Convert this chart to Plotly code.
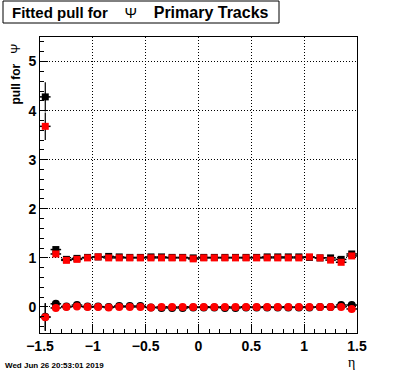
import plotly.graph_objects as go

eta = [-1.45, -1.35, -1.25, -1.15, -1.05, -0.95, -0.85, -0.75, -0.65, -0.55,
       -0.45, -0.35, -0.25, -0.15, -0.05, 0.05, 0.15, 0.25, 0.35, 0.45,
       0.55, 0.65, 0.75, 0.85, 0.95, 1.05, 1.15, 1.25, 1.35, 1.45]

black_sq = [4.28, 1.17, 0.97, 0.99, 1.01, 1.02, 1.03, 1.02, 1.01, 1.01,
            1.02, 1.02, 1.01, 1.01, 1.00, 1.01, 1.01, 1.01, 1.01, 1.01,
            1.01, 1.02, 1.02, 1.02, 1.02, 1.01, 1.00, 1.00, 0.97, 1.08]
black_sq_err = [0.30, 0.04, 0.01, 0.01, 0.01, 0.01, 0.01, 0.01, 0.01, 0.01,
                0.01, 0.01, 0.01, 0.01, 0.01, 0.01, 0.01, 0.01, 0.01, 0.01,
                0.01, 0.01, 0.01, 0.01, 0.01, 0.01, 0.01, 0.01, 0.02, 0.03]
red_sq = [3.68, 1.08, 0.95, 0.97, 1.00, 1.02, 1.00, 1.00, 1.00, 1.00,
          1.00, 1.00, 1.00, 1.00, 0.98, 1.00, 1.00, 1.00, 1.00, 1.00,
          1.00, 1.00, 1.00, 1.00, 1.00, 1.02, 1.00, 0.955, 0.91, 1.04]
red_sq_err = [0.28, 0.03, 0.01, 0.01, 0.01, 0.01, 0.01, 0.01, 0.01, 0.01,
              0.01, 0.01, 0.01, 0.01, 0.01, 0.01, 0.01, 0.01, 0.01, 0.01,
              0.01, 0.01, 0.01, 0.01, 0.01, 0.01, 0.01, 0.01, 0.02, 0.03]
black_ci = [-0.20, 0.065, 0.01, 0.04, 0.01, 0.01, 0.00, 0.02, 0.02, 0.02,
            -0.01, -0.02, -0.02, -0.02, -0.01, -0.01, -0.01, -0.02, -0.02, -0.01,
            -0.01, -0.01, -0.01, -0.01, -0.01, -0.01, 0.00, 0.00, 0.04, 0.04]
black_ci_err = [0.28, 0.03, 0.01, 0.01, 0.01, 0.01, 0.01, 0.01, 0.01, 0.01,
                0.01, 0.01, 0.01, 0.01, 0.01, 0.01, 0.01, 0.01, 0.01, 0.01,
                0.01, 0.01, 0.01, 0.01, 0.01, 0.01, 0.01, 0.01, 0.02, 0.03]
red_ci = [-0.21, -0.02, 0.00, 0.01, 0.00, 0.00, -0.01, 0.00, 0.00, 0.00,
          -0.01, 0.00, 0.00, 0.00, 0.00, 0.00, 0.00, 0.00, 0.00, 0.00,
          0.00, 0.00, 0.00, 0.00, 0.00, 0.00, 0.00, 0.00, 0.00, -0.04]
red_ci_err = [0.28, 0.03, 0.01, 0.01, 0.01, 0.01, 0.01, 0.01, 0.01, 0.01,
              0.01, 0.01, 0.01, 0.01, 0.01, 0.01, 0.01, 0.01, 0.01, 0.01,
              0.01, 0.01, 0.01, 0.01, 0.01, 0.01, 0.01, 0.01, 0.02, 0.03]

bin_half_width = 0.05

series = [
    (black_ci, black_ci_err, "black", "circle", 8),
    (black_sq, black_sq_err, "black", "square", 7),
    (red_ci, red_ci_err, "red", "circle", 8),
    (red_sq, red_sq_err, "red", "square", 7),
]

fig = go.Figure()
for vals, errs, col, sym, sz in series:
    fig.add_trace(go.Scatter(
        x=eta, y=vals, mode="markers",
        marker=dict(color=col, symbol=sym, size=sz, line=dict(width=0)),
        error_x=dict(type="constant", value=bin_half_width, color="black", thickness=1.5, width=0),
        error_y=dict(type="data", array=errs, color="black", thickness=1.2, width=0),
        showlegend=False, cliponaxis=True, hoverinfo="skip",
    ))

L, R, T, B = 40, 39, 37, 39
W, H = 396, 372
pw, ph = W - L - R, H - T - B

def px(x):
    return (x - L) / pw

def py(y):
    return (H - B - y) / ph

tickfont = dict(family="Liberation Sans", size=14, color="black")
grid = dict(showgrid=True, gridcolor="black", griddash="1px,2px", gridwidth=1)
fig.update_layout(
    width=W, height=H,
    margin=dict(l=L, r=R, t=T, b=B),
    paper_bgcolor="white", plot_bgcolor="white",
    font=dict(family="Liberation Sans", color="black"),
    xaxis=dict(range=[-1.5, 1.5], tickvals=[-1.5, -1, -0.5, 0, 0.5, 1, 1.5],
               ticktext=["<b>\u22121.5</b>", "<b>\u22121</b>", "<b>\u22120.5</b>", "<b>0</b>",
                         "<b>0.5</b>", "<b>1</b>", "<b>1.5</b>"],
               ticks="inside", ticklen=9, tickcolor="black", tickwidth=1,
               showline=True, linecolor="black", linewidth=1, mirror=True,
               zeroline=False, tickfont=tickfont, **grid,
               minor=dict(dtick=0.1, ticks="inside", ticklen=4, tickcolor="black", showgrid=False)),
    yaxis=dict(range=[-0.53, 5.5], tickvals=[0, 1, 2, 3, 4, 5],
               ticktext=["<b>0</b>", "<b>1</b>", "<b>2</b>", "<b>3</b>", "<b>4</b>", "<b>5</b>"],
               ticks="inside", ticklen=8, tickcolor="black", tickwidth=1,
               showline=True, linecolor="black", linewidth=1, mirror=True,
               zeroline=False, tickfont=tickfont, **grid,
               minor=dict(dtick=0.2, ticks="inside", ticklen=4, tickcolor="black", showgrid=False)),
)

# title box
fig.add_shape(type="rect", xref="paper", yref="paper",
              x0=px(3), x1=px(279), y0=py(23), y1=py(1),
              line=dict(color="black", width=1), fillcolor="white", layer="above")
fig.add_annotation(xref="paper", yref="paper", x=px(10), y=py(12),
                   xanchor="left", yanchor="middle", showarrow=False,
                   text="<b>Fitted pull for</b>    \u03a8    <b style='font-size:16px'>Primary Tracks</b>",
                   font=dict(family="Liberation Sans", size=15, color="black"))
# y axis label
fig.add_annotation(xref="paper", yref="paper", x=px(15), y=py(42),
                   xanchor="center", yanchor="top", showarrow=False, textangle=-90,
                   text="<b>pull for</b>   \u03a8",
                   font=dict(family="Liberation Sans", size=12, color="black"))
# x axis label
fig.add_annotation(xref="paper", yref="paper", x=px(351), y=py(362),
                   xanchor="center", yanchor="middle", showarrow=False,
                   text="\u03b7",
                   font=dict(family="Liberation Serif", size=14, color="black"))
# date stamp
fig.add_annotation(xref="paper", yref="paper", x=px(3), y=py(365),
                   xanchor="left", yanchor="middle", showarrow=False,
                   text="<b>Wed Jun 26 20:53:01 2019</b>",
                   font=dict(family="Liberation Sans", size=8, color="black"))

fig.write_html("out.html", config={"displayModeBar": False},
               post_script="document.body.style.margin='0px';document.body.style.overflow='hidden';")
